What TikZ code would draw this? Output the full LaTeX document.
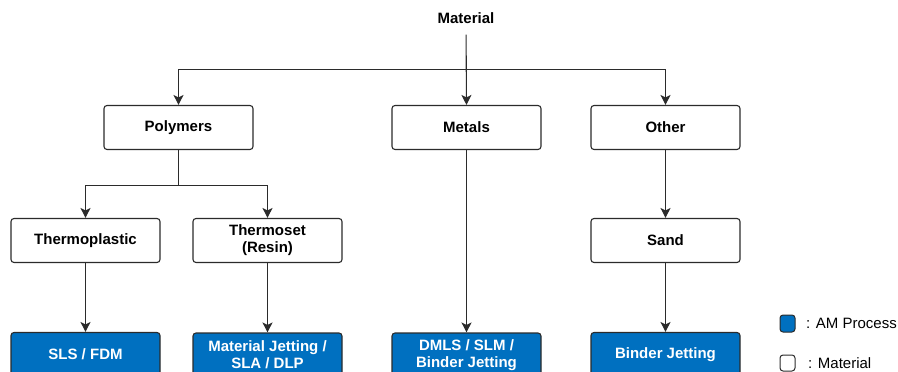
\documentclass[tikz,border=0pt]{standalone}
\usepackage{fontspec}
\setmainfont{Liberation Sans}
\usetikzlibrary{arrows.meta}
\definecolor{amblue}{HTML}{0070C0}
\definecolor{edge}{HTML}{2B2B2B}
\begin{document}
\begin{tikzpicture}[x=1pt,y=-1pt,
  box/.style={draw=edge, line width=1.1pt, rounded corners=3pt, minimum width=149pt, minimum height=44pt, align=center, font=\fontsize{15}{17}\selectfont\bfseries, inner sep=0pt},
  mat/.style={box, fill=white},
  proc/.style={box, fill=amblue, text=white},
  arr/.style={draw=edge, line width=1.1pt, -{Stealth[length=10pt,width=10pt,inset=2.5pt]}},
  ln/.style={draw=edge, line width=1.1pt},
  lab/.style={font=\fontsize{15}{17}\selectfont, anchor=west, inner sep=0pt},
  legbox/.style={draw=edge, line width=1pt, rounded corners=3pt}
]
\useasboundingbox (0,0) rectangle (898,372);
\begin{scope}
\clip (0,0) rectangle (898,372);
\node[font=\fontsize{15}{17}\selectfont\bfseries, inner sep=0pt] (material) at (466,18) {Material};
\node[mat] (poly) at (178.5,127.5) {Polymers};
\node[mat] (metals) at (466.5,127.5) {Metals};
\node[mat] (other) at (665.5,127.5) {Other};
\node[mat] (tp) at (85.5,240.5) {Thermoplastic};
\node[mat] (ts) at (267.5,240.5) {Thermoset\\(Resin)};
\node[mat] (sand) at (665.5,240.5) {Sand};
\node[proc] (p1) at (85.5,354.5) {SLS / FDM};
\node[proc] (p2) at (267.5,355) {Material Jetting /\\SLA / DLP};
\node[proc] (p3) at (466.5,355) {DMLS / SLM /\\Binder Jetting};
\node[proc] (p4) at (665.5,354.5) {Binder Jetting};

\draw[arr, shorten <=11pt] (material.south) -- (metals.north);
\coordinate (top) at (466.5,69.5);
\draw[arr] (top) -| (poly.north);
\draw[arr] (top) -| (other.north);
\draw[ln] (poly.south) -- ++(0,35) coordinate (pj);
\draw[arr] (pj) -| (tp.north);
\draw[arr] (pj) -| (ts.north);
\draw[arr] (tp.south) -- (p1.north);
\draw[arr] (ts.south) -- (p2.north);
\draw[arr] (metals.south) -- (p3.north);
\draw[arr] (other.south) -- (sand.north);
\draw[arr] (sand.south) -- (p4.north);

\draw[legbox, fill=amblue] (780,315) rectangle (795,332);
\node[lab] (l1) at (806,323.5) {: AM Process};
\draw[legbox, fill=white] (780,355) rectangle (795,371);
\node[lab] (l2) at (808,363) {: Material};
\end{scope}
\end{tikzpicture}
\end{document}
